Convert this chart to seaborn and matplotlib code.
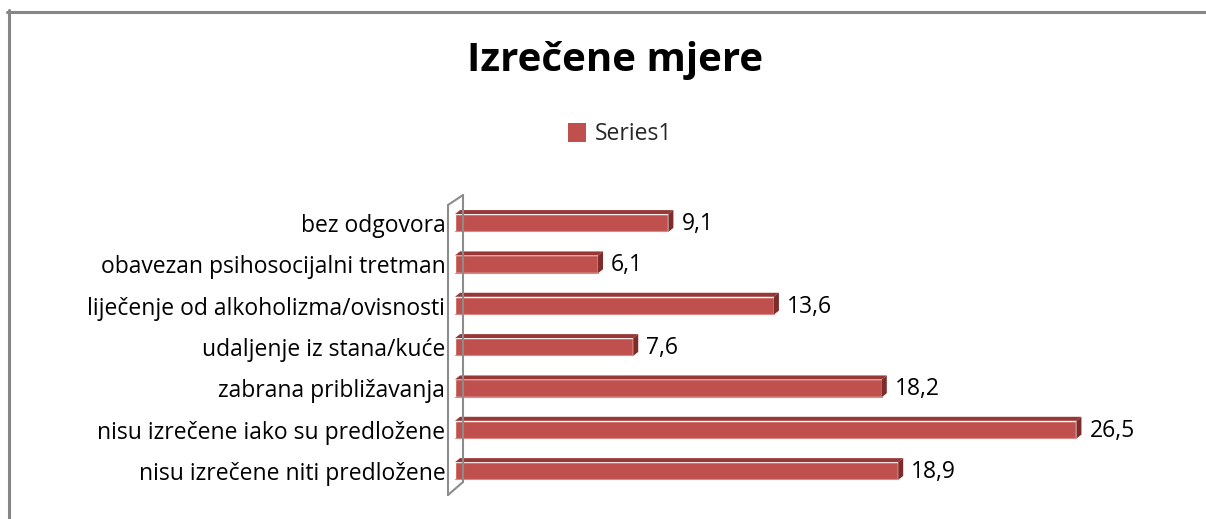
import matplotlib
matplotlib.use("Agg")
import matplotlib.pyplot as plt
import seaborn as sns
import pandas as pd
from matplotlib.patches import Polygon
from matplotlib.lines import Line2D

# data (top to bottom)
categories = [
    "bez odgovora",
    "obavezan psihosocijalni tretman",
    "liječenje od alkoholizma/ovisnosti",
    "udaljenje iz stana/kuće",
    "zabrana približavanja",
    "nisu izrečene iako su predložene",
    "nisu izrečene niti predložene",
]
values = [9.1, 6.1, 13.6, 7.6, 18.2, 26.5, 18.9]
series_name = "Series1"
title = "Izrečene mjere"

df = pd.DataFrame({"mjera": categories, "postotak": values})

sns.set_style("white")
plt.rcParams["font.family"] = ["Open Sans", "DejaVu Sans"]

W, H = 1206, 519
fig = plt.figure(figsize=(W / 100, H / 100), dpi=100)

def fx(px):
    return px / W

def fy(py):
    return 1 - py / H

# plot area in pixels
left, right_scale = 455, 23.45
top, bottom = 202.3, 491.7
xmax = 30
ax = fig.add_axes([fx(left), fy(bottom), (xmax * right_scale) / W, (bottom - top) / H])

front = "#C0504D"
top_col = "#973836"
side_col = "#7E2C2A"
fs = 16.5

sns.barplot(data=df, x="postotak", y="mjera", orient="h", color=front,
            width=0.43, saturation=1, ax=ax, label=series_name)
ax.set_xlim(0, xmax)
ax.set_ylim(6.5, -0.5)
for s in ax.spines.values():
    s.set_visible(False)
ax.set_xticks([])
ax.set_xlabel("")
ax.set_ylabel("")
ax.tick_params(axis="y", length=0, pad=7, labelsize=fs)
for t in ax.get_yticklabels():
    t.set_color("#000000")
if ax.legend_:
    ax.legend_.remove()

# 3D faces for each bar
dx, dy = 5, 4
for p in ax.patches:
    x0, y0 = p.get_x(), p.get_y()
    w, h = p.get_width(), p.get_height()
    (X0, Yb), (X1, Yt) = ax.transData.transform([(x0, y0 + h), (x0 + w, y0)])
    topface = Polygon([(X0, Yt), (X1, Yt), (X1 + dx, Yt + dy), (X0 + dx, Yt + dy)],
                      closed=True, transform=None, facecolor=top_col, edgecolor="none")
    sideface = Polygon([(X1, Yb), (X1, Yt), (X1 + dx, Yt + dy), (X1 + dx, Yb + dy)],
                       closed=True, transform=None, facecolor=side_col, edgecolor="none")
    fig.add_artist(topface)
    fig.add_artist(sideface)
    fig.add_artist(Line2D([X0, X1], [Yb + 0.5, Yb + 0.5], transform=None,
                          color="#D98886", lw=0.8))

# value labels
for i, v in enumerate(values):
    ax.annotate(f"{v:.1f}".replace(".", ","), (v, i), xytext=(13, -1),
                textcoords="offset pixels", va="center", ha="left",
                fontsize=fs, color="#000000")

# axis wall outline
wall = [((448, 205), (448, 495)), ((463, 195), (463, 482)),
        ((448, 205), (463, 195)), ((448, 495), (463, 482))]
for (a, b) in wall:
    fig.add_artist(Line2D([fx(a[0]), fx(b[0])], [fy(a[1]), fy(b[1])],
                          color="#8C8C8C", lw=1.5, transform=fig.transFigure))

# chart border (top and left visible)
fig.add_artist(Line2D([fx(7), fx(1206)], [fy(11.5), fy(11.5)], color="#868686", lw=2.2,
                      transform=fig.transFigure))
fig.add_artist(Line2D([fx(8.5), fx(8.5)], [fy(10), fy(519)], color="#868686", lw=2.2,
                      transform=fig.transFigure))

# title
fig.text(fx(615), fy(71), title, ha="center", va="baseline",
         fontsize=29, fontweight="bold", color="#000000")

# legend
handle = plt.Rectangle((0, 0), 1, 1, facecolor=front, edgecolor="none")
fig.legend([handle], [series_name], loc="center", bbox_to_anchor=(fx(620), fy(134)),
           frameon=False, fontsize=fs, handlelength=0.8, handleheight=0.9,
           handletextpad=0.4)

fig.savefig("out.png", dpi=100)
